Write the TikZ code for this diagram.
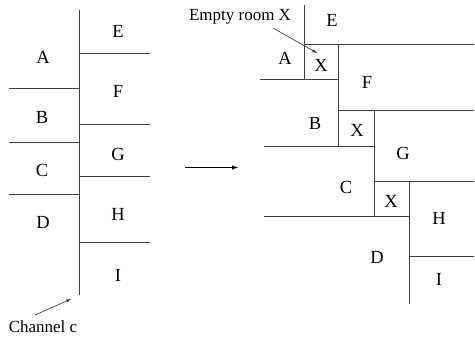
\documentclass[tikz,border=0pt]{standalone}
\usepackage{fontspec}
\setmainfont{Liberation Serif}
\begin{document}
\begin{tikzpicture}[x=1pt,y=-1pt,
  wall/.style={draw=black!75,line width=0.8pt},
  room/.style={font=\fontsize{18.5}{18.5}\selectfont,inner sep=0pt},
  note/.style={font=\fontsize{17}{17}\selectfont,inner sep=0pt},
  pointer/.style={draw=black!80,line width=0.6pt,-latex}]
\useasboundingbox (0,0) rectangle (475,339);

% ---- original layout: one channel with rooms on both sides ----
\draw[wall] (79,10) -- (79,295);
\draw[wall] (9,88) -- (79,88);
\draw[wall] (9,142) -- (79,142);
\draw[wall] (9,194) -- (79,194);
\draw[wall] (79,53) -- (150,53);
\draw[wall] (79,124) -- (150,124);
\draw[wall] (79,176) -- (150,176);
\draw[wall] (79,242) -- (150,242);

\node[room] (lA) at (43,57) {A};
\node[room] (lB) at (42,117) {B};
\node[room] (lC) at (42,170) {C};
\node[room] (lD) at (43,222) {D};
\node[room] (lE) at (118,31) {E};
\node[room] (lF) at (118,91) {F};
\node[room] (lG) at (118,154) {G};
\node[room] (lH) at (118,214) {H};
\node[room] (lI) at (118,275) {I};

\node[note] (chan) at (43,327) {Channel c};
\coordinate (chanTail) at (35,315);
\coordinate (chanTip) at (71,299);
\draw[pointer] (chanTail) -- (chanTip);

% ---- transformation arrow ----
\coordinate (tfrom) at (185,167.5);
\coordinate (tto) at (238,167.5);
\draw[draw=black,line width=1pt,-latex] (tfrom) -- (tto);

% ---- staggered layout with empty rooms ----
\draw[wall] (304,5) -- (304,79);
\draw[wall] (304,44) -- (474,44);
\draw[wall] (338,44) -- (338,146);
\draw[wall] (260,79) -- (338,79);
\draw[wall] (338,110) -- (474,110);
\draw[wall] (374,110) -- (374,216);
\draw[wall] (264,146) -- (374,146);
\draw[wall] (374,181) -- (474,181);
\draw[wall] (409,181) -- (409,304);
\draw[wall] (264,216) -- (409,216);
\draw[wall] (409,256) -- (474,256);

\node[room] (rE) at (332,20) {E};
\node[room] (rA) at (285,58) {A};
\node[room] (rX1) at (321,65) {X};
\node[room] (rF) at (367,82) {F};
\node[room] (rB) at (315,123) {B};
\node[room] (rX2) at (357,130) {X};
\node[room] (rG) at (403,153) {G};
\node[room] (rC) at (346,187) {C};
\node[room] (rX3) at (391,201) {X};
\node[room] (rH) at (439,218) {H};
\node[room] (rD) at (377,257) {D};
\node[room] (rI) at (439,279) {I};

\node[note] (empty) at (240,17) {Empty room X};
\coordinate (emptyTail) at (273,28);
\coordinate (emptyTip) at (317,53);
\draw[pointer] (emptyTail) -- (emptyTip);
\end{tikzpicture}
\end{document}
